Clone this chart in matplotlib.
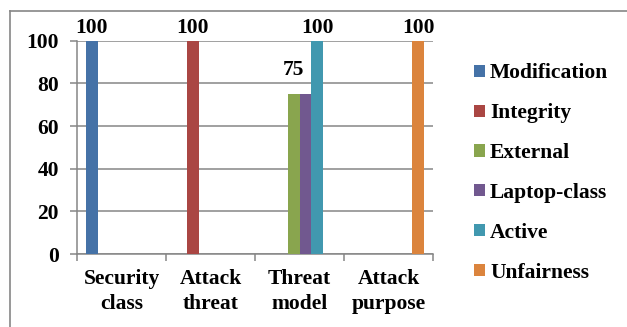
import numpy as np
import matplotlib
matplotlib.use('Agg')
import matplotlib.pyplot as plt
from matplotlib.lines import Line2D
from matplotlib.patches import Patch

FS = 15.5
plt.rcParams.update({
    'font.family': ['Liberation Serif', 'DejaVu Serif'],
    'font.weight': 'bold',
    'font.size': FS,
})

categories = ['Security\nclass', 'Attack\nthreat', 'Threat\nmodel', 'Attack\npurpose']
series = ['Modification', 'Integrity', 'External', 'Laptop-class', 'Active', 'Unfairness']
values = [
    [100, 0, 0, 0],    # Modification
    [0, 100, 0, 0],    # Integrity
    [0, 0, 75, 0],     # External
    [0, 0, 75, 0],     # Laptop-class
    [0, 0, 100, 0],    # Active
    [0, 0, 0, 100],    # Unfairness
]
colors = ['#4572A7', '#AA4643', '#89A54E', '#71588F', '#4198AF', '#DB843D']
# labels shown in the picture (Laptop-class label hidden behind External's)
show_label = [True, True, True, False, True, True]

W, H = 627, 327
fig = plt.figure(figsize=(W / 100, H / 100), dpi=100)
ax = fig.add_axes([77 / W, 1 - 254 / H, (433 - 77) / W, (254 - 40.7) / H])

n = len(series)
width = 0.8 / n
x = np.arange(len(categories))
for i, (name, vals) in enumerate(zip(series, values)):
    pos = x - 0.4 + width * (i + 0.5)
    ax.bar(pos, vals, width, color=colors[i], label=name, zorder=3)
    if show_label[i]:
        for p, v in zip(pos, vals):
            if v > 0:
                off = 2 if v == 100 else 10
                ax.annotate(str(v), (p, v), xytext=(0, off), textcoords='offset points',
                            ha='center', va='bottom', fontsize=FS,
                            fontweight='bold', annotation_clip=False)

ax.set_xlim(-0.5, len(categories) - 0.5)
ax.set_ylim(0, 100)
ax.set_yticks([0, 20, 40, 60, 80, 100])
ax.yaxis.grid(True, color='#868686', linewidth=1.1, zorder=0)
ax.set_axisbelow(True)

ax.set_xticks(x)
ax.set_xticklabels(categories, linespacing=1.3)
ax.set_xticks(np.arange(len(categories) + 1) - 0.5, minor=True)
ax.tick_params(axis='x', which='major', length=0, pad=11)
ax.tick_params(axis='x', which='minor', length=5, width=1.1, color='#868686')
ax.tick_params(axis='y', length=5, width=1.1, color='#868686', pad=8)

for side in ['top', 'right']:
    ax.spines[side].set_visible(False)
for side in ['left', 'bottom']:
    ax.spines[side].set_color('#868686')
    ax.spines[side].set_linewidth(1.1)

handles = [Patch(facecolor=c, edgecolor='none') for c in colors]
fig.legend(handles, series, loc='center left', bbox_to_anchor=(474 / W, 1 - 173 / H),
           frameon=False, borderaxespad=0, borderpad=0, handlelength=0.5,
           handleheight=0.5, handletextpad=0.25, labelspacing=0.92)

# outer chart border (top and left visible)
fig.add_artist(Line2D([10 / W, 1], [1 - 11 / H, 1 - 11 / H], color='#868686', linewidth=1.2))
fig.add_artist(Line2D([10 / W, 10 / W], [0, 1 - 11 / H], color='#868686', linewidth=1.2))

fig.savefig('out.png', dpi=100)
